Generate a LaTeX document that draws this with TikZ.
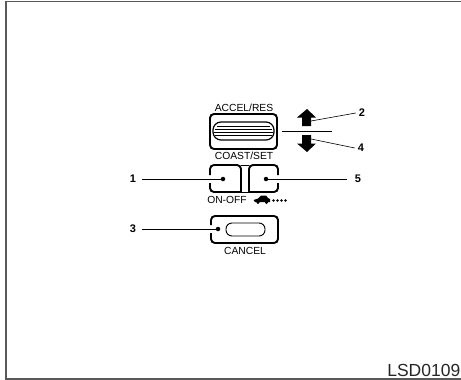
\documentclass[tikz,border=0pt]{standalone}
\usepackage{fontspec}
\setmainfont{Liberation Sans}
\usetikzlibrary{calc,positioning}
\begin{document}
\begin{tikzpicture}[x=1pt,y=-1pt,every node/.style={inner sep=0pt,font=\fontsize{10.3}{10.3}\selectfont},
key/.style={line width=1.9pt,rounded corners=4pt},lens/.style={draw,line width=1.2pt,rounded corners=8pt,minimum width=61pt,minimum height=18pt},
hole/.style={draw,line width=.9pt,rounded corners=6pt,minimum width=39pt,minimum height=13pt},
dot/.style={circle,fill,minimum size=4.5pt},num/.style={font=\fontsize{11}{11}\bfseries\selectfont},lead/.style={line width=.6pt},
frameline/.style={line width=1.5pt,black!65}]
\useasboundingbox (0,0) rectangle (461,380);
\draw[frameline] (6,380)--(6,1.5)--(461,1.5);\draw[frameline] (6,379)--(461,379);
\node[anchor=south east,font=\fontsize{17.5}{17.5}\selectfont,black!85] (code) at (460.5,377) {LSD0109};
% upper key
\node[key,draw,minimum width=67pt,minimum height=35pt] (rocker) at (243.5,131.5) {};
\node[lens] (grip) at (243.5,131) {};
\draw[line width=1pt] (217,126)--(270,126) (215,129)--(272,129) (214,132)--(273,132) (215,135.5)--(272,135.5);
\node (accel) at (244,108) {ACCEL/RES};
\node (coast) at (244,156) {COAST/SET};
% arrows
\fill (307,109)--(316,117.5)--(311,117.5)--(311,126)--(302,126)--(302,117.5)--(297,117.5)--cycle;
\fill (307,152)--(316,143.5)--(311,143.5)--(311,135)--(302,135)--(302,143.5)--(297,143.5)--cycle;
\coordinate (upbar) at (311,121);\coordinate (downbar) at (311,139);
\coordinate (divl) at (282,131);\coordinate (divr) at (332,131);
\draw[line width=.9pt] (divl)--(divr);
\node[num] (n2) at (362,113) {2};
\node[num] (n4) at (361,148) {4};
\draw[lead] (upbar)--($(n2.west)+(-3,0)$);\draw[lead] (downbar)--($(n4.west)+(-3,0)$);
% on-off keys
\draw[key] (210,175)--(210,165)--(241,165)[sharp corners]--(241,192)[rounded corners=4pt]--(210,192)--(210,183);
\draw[key] (278,175)--(278,165)--(249,165)[sharp corners]--(249,192)[rounded corners=4pt]--(278,192)--(278,183);
\draw[line width=.6pt] (241,165)--(249,165) (241,192)--(249,192);
\node[dot] (d1) at (223,179) {};
\node[dot] (d5) at (266,179) {};
\node[num] (n1) at (133,179) {1};
\node[num] (n5) at (358,179) {5};
\draw[lead] (n1.east)++(6,0)--(d1);\draw[lead] (d5)--($(n5.west)+(-8,0)$);
\node (onoff) at (227,200) {ON-OFF};
% car
\fill (253.5,200)--(258,198.5)--(261,195.5)--(266,195.5)--(268,198)--(270,199)--(270,202)--(255,202)--cycle;
\fill (258,202.5) circle (1.6pt) (266.5,202.5) circle (1.6pt);
\foreach \i in {0,1,2,3}{\fill (273.5+\i*4,200.5) circle (1.4pt);}
% cancel key
\draw[key] (211,225)--(211,216)--(278,216)--(278,243)--(211,243)--(211,233);
\node[hole] (slot) at (245.5,229.5) {};
\node[dot] (d3) at (218,229) {};
\node[num] (n3) at (133,229) {3};
\draw[lead] (n3.east)++(6,0)--(d3);
\node (cancel) at (245,251) {CANCEL};
\end{tikzpicture}
\end{document}
